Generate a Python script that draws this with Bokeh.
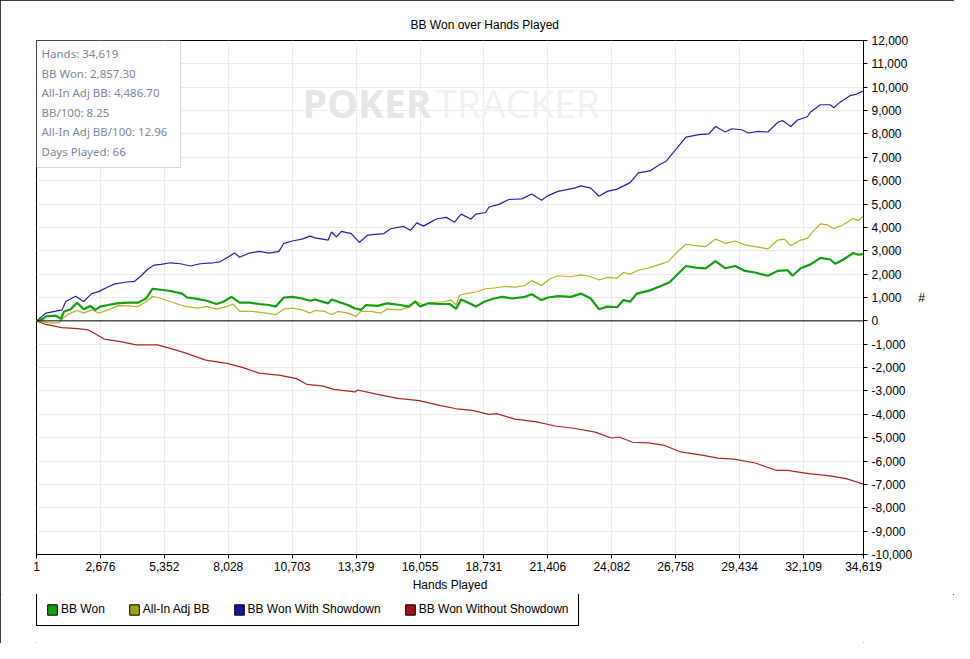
from bokeh.plotting import figure
from bokeh.layouts import column
from bokeh.models import (Range1d, FixedTicker, NumeralTickFormatter, Span, Legend,
                          LegendItem, Label, BoxAnnotation)
from bokeh.embed import file_html
from bokeh.resources import INLINE

TITLE = "BB Won over Hands Played"
X_LABEL = "Hands Played"
Y_LABEL = "#"
x_ticks = [1, 2676, 5352, 8028, 10703, 13379, 16055, 18731, 21406, 24082, 26758, 29434, 32109, 34619]
y_ticks = [-10000, -9000, -8000, -7000, -6000, -5000, -4000, -3000, -2000, -1000, 0,
           1000, 2000, 3000, 4000, 5000, 6000, 7000, 8000, 9000, 10000, 11000, 12000]

stats_lines = ["Hands: 34,619", "BB Won: 2,857.30", "All-In Adj BB: 4,486.70",
               "BB/100: 8.25", "All-In Adj BB/100: 12.96", "Days Played: 66"]

series_names = ["BB Won", "All-In Adj BB", "BB Won With Showdown", "BB Won Without Showdown"]
line_colors = ["#10a010", "#b4b426", "#2020b4", "#b42020"]
swatch_colors = ["#14a014", "#a0a014", "#1414a0", "#a01414"]

won_hands = [1, 261, 400, 812, 1019, 1155, 1431, 1703, 1978, 2255, 2461, 2667, 3008, 3351, 3834,
             4246, 4588, 4864, 5205, 5617, 6100, 6306, 6718, 7130, 7542, 7818, 8160, 8502, 8914,
             9326, 9738, 10015, 10356, 10702, 11114, 11456, 11662,
             12211, 12351, 12624, 13036, 13312, 13588, 13794, 14272, 14684, 15236, 15578, 15855,
             16060, 16403, 16885, 17297, 17569, 17774, 18121, 18393, 18739, 19151, 19493, 19906,
             20453, 20729, 21142, 21418, 21830, 22378,
             22790, 23203, 23545, 23891, 24303, 24575, 24850, 25127, 25675, 26087, 26499, 26774,
             27187, 27599, 28011, 28423, 28835, 29248, 29660, 30072, 30620, 31032, 31444, 31650,
             31992, 32405, 32817, 33229, 33435, 33779, 34192, 34398, 34619]
won_bb = [0, 83, 194, 222, 83, 403, 500, 778, 500, 639, 472, 611, 680, 750, 778,
          778, 958, 1375, 1333, 1278, 1167, 1000, 944, 861, 722, 819, 1028, 778, 778,
          722, 680, 611, 1000, 1028, 958, 861, 917,
          750, 917, 819, 680, 542, 472, 680, 639, 750, 680, 611, 819,
          611, 750, 722, 722, 514, 917, 750, 611, 819, 958, 1028, 958,
          1028, 1139, 889, 1000, 1055, 1028,
          1167, 958, 500, 611, 583, 889, 819, 1167, 1305, 1472, 1653, 1930,
          2347, 2278, 2250, 2555, 2250, 2347, 2139, 2070, 1930, 2139, 2167, 1930,
          2250, 2417, 2694, 2625, 2444, 2625, 2903, 2833, 2857]

adj_hands = [1, 537, 949, 1155, 1431, 1703, 1978, 2321, 2596, 3008, 3421, 3834, 4246, 4588, 4864,
             5205, 5617, 6029, 6306, 6718, 7130, 7542, 7954, 8231, 8502, 9055, 9603, 10015, 10356,
             10702, 11114, 11456, 11662,
             12076, 12351, 12624, 13036, 13382, 13588, 14000, 14412, 14684, 15236, 15647, 15855,
             16196, 16473, 17021, 17363, 17569, 17709, 17981, 18393, 18805, 19217, 19629, 20041,
             20453, 20729, 21142, 21484, 21830, 22378,
             22790, 23203, 23545, 23891, 24303, 24575, 24850, 25192, 25675, 26087, 26429, 26774,
             27187, 27599, 28011, 28423, 28835, 29248, 29660, 30072, 30620, 31032, 31308, 31580,
             31992, 32268, 32544, 32817, 33093, 33369, 33779, 34192, 34398, 34619]
adj_bb = [0, -83, -83, 167, 333, 444, 333, 472, 333, 472, 653, 639, 611, 819, 1055,
          958, 819, 680, 611, 542, 611, 500, 611, 722, 403, 403, 333, 264, 500,
          542, 472, 333, 444,
          403, 264, 403, 333, 194, 403, 403, 333, 500, 472, 611, 861,
          680, 778, 819, 889, 680, 1097, 1167, 1236, 1375, 1417, 1472, 1444,
          1514, 1722, 1514, 1792, 1930, 1889,
          1972, 1889, 1750, 1861, 1833, 2070, 2000, 2167, 2278, 2417, 2528, 2903,
          3278, 3222, 3180, 3500, 3320, 3417, 3250, 3180, 3083, 3458, 3500, 3222,
          3458, 3528, 3875, 4153, 4111, 3944, 4111, 4388, 4292, 4487]

sd_hands = [1, 400, 812, 1071, 1224, 1636, 1978, 2308, 2596, 3008, 3284, 3697, 4109, 4381, 4657,
            4933, 5205, 5617, 6029, 6441, 6853, 7406, 7678, 7954, 8296, 8502, 8914, 9326, 9738,
            10150, 10356, 10702, 11114, 11456, 11662,
            12211, 12351, 12557, 12763, 13175, 13517, 13859, 14547, 14823, 15371, 15647, 15920,
            16196, 16744, 17156, 17502, 17774, 18186, 18393, 18805, 18945, 19357, 19769, 20317,
            20729, 21142, 21418, 21830, 22514,
            22790, 23203, 23545, 23891, 24303, 24850, 25192, 25675, 26087, 26362, 26774, 27187,
            27734, 28147, 28423, 28835, 29107, 29519, 29795, 30208, 30620, 31032, 31238, 31580,
            31856, 32268, 32405, 32817, 33229, 33369, 33641, 34053, 34328, 34619]
sd_bb = [0, 333, 415, 470, 830, 1055, 830, 1167, 1250, 1458, 1583, 1653, 1694, 1930, 2208,
         2388, 2417, 2486, 2444, 2347, 2444, 2486, 2528, 2694, 2903, 2722, 2903, 2972, 2903,
         2972, 3320, 3417, 3500, 3625, 3555,
         3458, 3805, 3597, 3833, 3736, 3361, 3667, 3736, 3944, 4042, 3875, 4194,
         4055, 4360, 4430, 4222, 4570, 4360, 4570, 4639, 4875, 4986, 5194, 5222,
         5430, 5167, 5361, 5542, 5680,
         5778, 5680, 5333, 5542, 5639, 5917, 6333, 6417, 6695, 6833, 7347, 7861,
         7972, 8000, 8320, 8083, 8222, 8180, 8042, 8110, 8083, 8500, 8570, 8320,
         8597, 8736, 8944, 9250, 9250, 9125, 9361, 9639, 9708, 9847]

nsd_hands = [1, 384, 1052, 1724, 2169, 2840, 3508, 4180, 5070, 5742, 6191, 7085, 7975, 8647, 9318,
             10209, 10880, 11325, 11997, 12442, 13337, 13448, 14231, 15125, 16019, 16910, 17581,
             18252, 18920, 19259, 20037, 20931, 21715, 22494, 23388, 24060, 24393, 24954, 25621,
             26293, 26965, 27855, 28527, 29194, 30089, 30983, 31428, 32322, 33216, 33887, 34619]
nsd_bb = [0, -153, -292, -333, -389, -778, -889, -1028, -1028, -1222, -1361, -1680, -1820, -2000,
          -2236, -2333, -2472, -2722, -2792, -2930, -3042, -2958, -3138, -3320, -3417, -3625,
          -3763, -3833, -4000, -3972, -4208, -4320, -4500, -4597, -4763, -5013, -4972, -5195,
          -5222, -5333, -5611, -5750, -5875, -5917, -6083, -6403, -6403, -6542, -6638, -6750, -6990]

X_START, X_END = 1, 34619
Y_START, Y_END = -10000, 12000
W, H = 954, 594
LEGEND_H = 49
B_LEFT, B_RIGHT, B_TOP, B_BOTTOM = 36, 91, 40, 40
FRAME_W, FRAME_H = W - B_LEFT - B_RIGHT, H - B_TOP - B_BOTTOM
FONT = "Liberation Sans"
NAN = float("nan")


def fx(px):
    return X_START + px * (X_END - X_START) / FRAME_W


def fy(py):
    return Y_END - py * (Y_END - Y_START) / FRAME_H


p = figure(width=W, height=H, output_backend="svg", toolbar_location=None,
           x_range=Range1d(X_START, X_END), y_range=Range1d(Y_START, Y_END),
           y_axis_location="right",
           min_border_left=B_LEFT, min_border_right=B_RIGHT,
           min_border_top=B_TOP, min_border_bottom=B_BOTTOM)
p.background_fill_color = "white"
p.border_fill_color = "white"
p.outline_line_color = "black"
p.outline_line_alpha = 1.0
p.outline_line_width = 1

p.title.text = TITLE
p.title.text_font = FONT
p.title.text_font_size = "12px"
p.title.text_font_style = "normal"
p.title.text_color = "black"
p.title.align = "left"
p.title.offset = 374
p.title.standoff = 17

xt = FixedTicker(ticks=x_ticks)
yt = FixedTicker(ticks=y_ticks)
p.xaxis.ticker = xt
p.yaxis.ticker = yt
p.xgrid.ticker = xt
p.ygrid.ticker = yt
p.xaxis.formatter = NumeralTickFormatter(format="0,0")
p.yaxis.formatter = NumeralTickFormatter(format="0,0")
p.axis.minor_tick_line_color = None
p.axis.major_tick_out = 4
p.axis.major_tick_in = 0
p.axis.axis_line_color = "black"
p.axis.major_tick_line_color = "black"
p.axis.major_label_text_font = FONT
p.axis.major_label_text_font_size = "12px"
p.axis.major_label_text_color = "black"
p.axis.axis_label_text_font = FONT
p.axis.axis_label_text_font_size = "12px"
p.axis.axis_label_text_font_style = "normal"
p.axis.axis_label_text_color = "black"
p.xaxis.axis_label = X_LABEL
p.xaxis.major_label_standoff = 3
p.xaxis.axis_label_standoff = 4
p.yaxis.axis_label = Y_LABEL
p.yaxis.major_label_standoff = 4
p.yaxis.axis_label_standoff = 3
p.yaxis.axis_label_orientation = "horizontal"

p.grid.grid_line_color = "#ebebeb"
p.grid.grid_line_width = 1

# watermark
p.add_layout(Label(x=fx(266), y=fy(62), text="POKER", text_font="Open Sans", text_font_size="39px",
                   text_font_style="bold", text_color="#e6e6e6", text_baseline="alphabetic",
                   level="underlay"))
p.add_layout(Label(x=fx(399), y=fy(62), text="TRACKER", text_font="Open Sans", text_font_size="39px",
                   text_color="#f1f1f1", text_baseline="alphabetic", level="underlay"))

p.add_layout(Span(location=0, dimension="width", line_color="black", line_width=1))

series = [(won_hands, won_bb, 2.2), (adj_hands, adj_bb, 1.2), (sd_hands, sd_bb, 1.2), (nsd_hands, nsd_bb, 1.2)]
draw_order = [3, 2, 1, 0]
for i in draw_order:
    hx, hy, lw = series[i]
    p.line(hx, hy, line_color=line_colors[i], line_width=lw)

# info box
p.add_layout(BoxAnnotation(left=fx(0), right=fx(144), top=fy(0), bottom=fy(127),
                           fill_color="white", fill_alpha=1.0, line_color="#808080", line_width=1))
for k, t in enumerate(stats_lines):
    p.add_layout(Label(x=fx(5), y=fy(13.2 + 19.5 * k), text=t, text_font="Noto Sans",
                       text_font_size="11.5px", text_color="#7d8799", text_baseline="middle"))

# legend strip below the chart
lf = figure(width=W, height=LEGEND_H, output_backend="svg", toolbar_location=None,
            x_range=Range1d(0, 1), y_range=Range1d(0, 1),
            x_axis_location=None, y_axis_location=None, min_border=0)
lf.grid.visible = False
lf.outline_line_color = None
lf.background_fill_color = "white"
lf.border_fill_color = "white"
items = []
for name, col in zip(series_names, swatch_colors):
    r = lf.quad(left=[NAN], right=[NAN], top=[NAN], bottom=[NAN], fill_color=col, line_color="black")
    items.append(LegendItem(label=name, renderers=[r]))
legend = Legend(items=items, orientation="horizontal", location=(0, 17),
                label_text_font=FONT, label_text_font_size="12px", label_text_color="black",
                border_line_color="black", border_line_width=1, border_line_alpha=1.0,
                background_fill_color="white", background_fill_alpha=1.0,
                padding=9, spacing=23, label_standoff=3, glyph_width=12, glyph_height=13,
                label_height=13, margin=0)
lf.add_layout(legend)

layout = column(p, lf, spacing=0, styles={"outline": "1px solid black", "outline-offset": "-1px"})

open("out.html", "w").write(file_html(layout, INLINE))
